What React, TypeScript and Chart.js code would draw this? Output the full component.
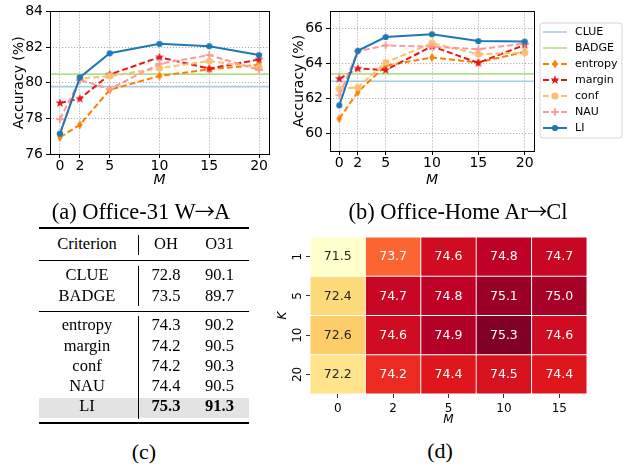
import React, { useEffect, useRef } from 'react';
import { Chart, registerables } from 'chart.js';

Chart.register(...registerables);

// ---------------- DATA ----------------
const M_VALUES = [0, 2, 5, 10, 15, 20];
const SERIES_LABELS = ['CLUE', 'BADGE', 'entropy', 'margin', 'conf', 'NAU', 'LI'];

// (a) Office-31 W→A
const A_CLUE = 79.78;
const A_BADGE = 80.48;
const A_ENTROPY = [76.94, 77.64, 79.6, 80.38, 80.75, 81.0];
const A_MARGIN = [78.86, 79.1, 80.46, 81.43, 80.79, 81.3];
const A_CONF = [77.15, 80.24, 80.37, 80.82, 81.21, 80.85];
const A_NAU = [77.95, 80.15, 79.65, 81.06, 81.55, 80.72];
const A_LI = [77.13, 80.3, 81.65, 82.18, 82.05, 81.55];
const A_Y_TICKS = [76, 78, 80, 82, 84];

// (b) Office-Home Ar→Cl
const B_CLUE = 63.0;
const B_BADGE = 63.42;
const B_ENTROPY = [60.85, 62.38, 63.89, 64.36, 64.07, 64.68];
const B_MARGIN = [63.14, 63.73, 63.64, 65.0, 64.05, 65.08];
const B_CONF = [62.57, 62.64, 64.07, 65.18, 64.55, 64.64];
const B_NAU = [62.19, 64.72, 65.05, 64.98, 64.83, 65.16];
const B_LI = [61.62, 64.74, 65.53, 65.69, 65.3, 65.27];
const B_Y_TICKS = [60, 62, 64, 66];

// (c) table
const TABLE_HEADER = ['Criterion', 'OH', 'O31'];
const TABLE_BASE_NAMES = ['CLUE', 'BADGE'];
const TABLE_BASE_OH = ['72.8', '73.5'];
const TABLE_BASE_O31 = ['90.1', '89.7'];
const TABLE_OURS_NAMES = ['entropy', 'margin', 'conf', 'NAU', 'LI'];
const TABLE_OURS_OH = ['74.3', '74.2', '74.2', '74.4', '75.3'];
const TABLE_OURS_O31 = ['90.2', '90.5', '90.3', '90.5', '91.3'];

// (d) heatmap
const HM_M = ['0', '2', '5', '10', '15'];
const HM_K = ['1', '5', '10', '20'];
const HM_VALUES = [
  [71.5, 73.7, 74.6, 74.8, 74.7],
  [72.4, 74.7, 74.8, 75.1, 75.0],
  [72.6, 74.6, 74.9, 75.3, 74.6],
  [72.2, 74.2, 74.4, 74.5, 74.4],
];

// ---------------- STYLE ----------------
const FONT = 'DejaVu Sans';
const SERIF = 'Liberation Serif';
const COLORS: Record<string, string> = {
  CLUE: '#a6cee3',
  BADGE: '#b2df8a',
  entropy: '#ff7f00',
  margin: '#e31a1c',
  conf: '#fdbf6f',
  NAU: '#fb9a99',
  LI: '#1f78b4',
};
const MARKERS: Record<string, string> = {
  entropy: 'thinDiamond',
  margin: 'star',
  conf: 'circleL',
  NAU: 'plus',
  LI: 'circle',
};

function makeMarker(kind: string, color: string): HTMLCanvasElement {
  const s = 14;
  const c = document.createElement('canvas');
  c.width = s;
  c.height = s;
  const ctx = c.getContext('2d')!;
  ctx.fillStyle = color;
  ctx.strokeStyle = color;
  const cx = s / 2;
  const cy = s / 2;
  ctx.beginPath();
  if (kind === 'circle') {
    ctx.arc(cx, cy, 3.1, 0, Math.PI * 2);
    ctx.fill();
  } else if (kind === 'circleL') {
    ctx.arc(cx, cy, 3.6, 0, Math.PI * 2);
    ctx.fill();
  } else if (kind === 'thinDiamond') {
    ctx.moveTo(cx, cy - 4.6);
    ctx.lineTo(cx + 2.7, cy);
    ctx.lineTo(cx, cy + 4.6);
    ctx.lineTo(cx - 2.7, cy);
    ctx.closePath();
    ctx.fill();
  } else if (kind === 'star') {
    const R = 4.8;
    const r = 2.0;
    for (let i = 0; i < 10; i++) {
      const a = -Math.PI / 2 + (i * Math.PI) / 5;
      const rr = i % 2 === 0 ? R : r;
      const px = cx + rr * Math.cos(a);
      const py = cy + rr * Math.sin(a);
      if (i === 0) ctx.moveTo(px, py);
      else ctx.lineTo(px, py);
    }
    ctx.closePath();
    ctx.fill();
  } else if (kind === 'plus') {
    ctx.lineWidth = 1.8;
    ctx.moveTo(cx - 3.8, cy);
    ctx.lineTo(cx + 3.8, cy);
    ctx.moveTo(cx, cy - 3.8);
    ctx.lineTo(cx, cy + 3.8);
    ctx.stroke();
  }
  return c;
}

// YlOrRd colormap
const YLORRD = ['#ffffcc', '#ffeda0', '#fed976', '#feb24c', '#fd8d3c', '#fc4e2a', '#e31a1c', '#bd0026', '#800026'];
function hexToRgb(h: string) {
  return [parseInt(h.slice(1, 3), 16), parseInt(h.slice(3, 5), 16), parseInt(h.slice(5, 7), 16)];
}
function ylorrd(t: number): string {
  const tt = Math.max(0, Math.min(1, t)) * (YLORRD.length - 1);
  const i = Math.min(Math.floor(tt), YLORRD.length - 2);
  const f = tt - i;
  const a = hexToRgb(YLORRD[i]);
  const b = hexToRgb(YLORRD[i + 1]);
  const c = a.map((v, k) => Math.round(v + (b[k] - v) * f));
  return `rgb(${c[0]},${c[1]},${c[2]})`;
}

// ---------------- PLUGINS ----------------
const framePlugin = {
  id: 'frame',
  afterDraw(chart: any) {
    const { ctx, chartArea } = chart;
    ctx.save();
    ctx.strokeStyle = '#000';
    ctx.lineWidth = 1;
    ctx.setLineDash([]);
    ctx.strokeRect(
      Math.round(chartArea.left) + 0.5,
      Math.round(chartArea.top) + 0.5,
      Math.round(chartArea.right - chartArea.left),
      Math.round(chartArea.bottom - chartArea.top)
    );
    ctx.restore();
  },
};

const legendPlugin = {
  id: 'mplLegend',
  afterDraw(chart: any) {
    const { ctx, chartArea } = chart;
    const x0 = chartArea.right + 6;
    const y0 = 23;
    const w = 82;
    const h = 115;
    ctx.save();
    ctx.beginPath();
    const r = 3;
    ctx.moveTo(x0 + r, y0);
    ctx.lineTo(x0 + w - r, y0);
    ctx.quadraticCurveTo(x0 + w, y0, x0 + w, y0 + r);
    ctx.lineTo(x0 + w, y0 + h - r);
    ctx.quadraticCurveTo(x0 + w, y0 + h, x0 + w - r, y0 + h);
    ctx.lineTo(x0 + r, y0 + h);
    ctx.quadraticCurveTo(x0, y0 + h, x0, y0 + h - r);
    ctx.lineTo(x0, y0 + r);
    ctx.quadraticCurveTo(x0, y0, x0 + r, y0);
    ctx.closePath();
    ctx.fillStyle = 'rgba(255,255,255,0.85)';
    ctx.fill();
    ctx.strokeStyle = '#d6d6d6';
    ctx.lineWidth = 1;
    ctx.setLineDash([]);
    ctx.stroke();
    chart.data.datasets.forEach((ds: any, i: number) => {
      const cy = y0 + 9 + i * 16;
      ctx.beginPath();
      ctx.strokeStyle = ds.borderColor;
      ctx.lineWidth = ds.borderWidth;
      ctx.setLineDash(ds.borderDash || []);
      ctx.moveTo(x0 + 3, cy);
      ctx.lineTo(x0 + 27, cy);
      ctx.stroke();
      ctx.setLineDash([]);
      if (ds.pointStyle && typeof ds.pointStyle === 'object') {
        const img = ds.pointStyle as HTMLCanvasElement;
        ctx.drawImage(img, x0 + 15 - img.width / 2, cy - img.height / 2);
      }
      ctx.fillStyle = '#000';
      ctx.font = `11px "${FONT}"`;
      ctx.textBaseline = 'middle';
      ctx.textAlign = 'left';
      ctx.fillText(ds.label, x0 + 35, cy + 0.5);
    });
    ctx.restore();
  },
};

const cellTextPlugin = {
  id: 'cellText',
  afterDatasetsDraw(chart: any) {
    const { ctx } = chart;
    ctx.save();
    ctx.font = `12.5px "${FONT}"`;
    ctx.textAlign = 'center';
    ctx.textBaseline = 'middle';
    chart.data.datasets.forEach((ds: any, di: number) => {
      const meta = chart.getDatasetMeta(di);
      const row = HM_K.length - 1 - di;
      meta.data.forEach((el: any, j: number) => {
        const v = HM_VALUES[row][j];
        ctx.fillStyle = v < 73 ? '#262626' : '#ffffff';
        ctx.fillText(v.toFixed(1), el.x, (el.y + el.base) / 2 + 0.5);
      });
    });
    ctx.restore();
  },
};

// ---------------- LINE CHARTS ----------------
function buildLineConfig(
  clue: number,
  badge: number,
  series: Record<string, number[]>,
  yMin: number,
  yMax: number,
  yTicks: number[],
  rightPad: number,
  topPad: number,
  bottomArea: number,
  withLegend: boolean
) {
  const datasets: any[] = [];
  const n = SERIES_LABELS.length;
  SERIES_LABELS.forEach((name, i) => {
    const order = n - 1 - i;
    if (name === 'CLUE' || name === 'BADGE') {
      const v = name === 'CLUE' ? clue : badge;
      datasets.push({
        label: name,
        data: [
          { x: -1, y: v },
          { x: 21, y: v },
        ],
        borderColor: COLORS[name],
        borderWidth: 1.6,
        pointRadius: 0,
        order,
      });
    } else {
      const vals = series[name];
      const marker = makeMarker(MARKERS[name], COLORS[name]);
      datasets.push({
        label: name,
        data: M_VALUES.map((m, k) => ({ x: m, y: vals[k] })),
        borderColor: COLORS[name],
        backgroundColor: COLORS[name],
        borderWidth: 2,
        borderDash: name === 'LI' ? [] : [6, 3],
        pointStyle: marker,
        pointRadius: 4,
        order,
      });
    }
  });

  const gridCommon = {
    color: '#b0b0b0',
    lineWidth: 1,
    drawTicks: true,
    tickLength: 4,
    tickColor: '#000',
    tickBorderDash: [],
  };
  const borderCommon = { display: false, dash: [1.2, 1.8] };

  return {
    type: 'line',
    data: { datasets },
    options: {
      animation: false,
      responsive: false,
      maintainAspectRatio: false,
      layout: { padding: { left: 0, top: topPad, right: rightPad, bottom: 0 } },
      plugins: { legend: { display: false }, tooltip: { enabled: false } },
      scales: {
        x: {
          type: 'linear',
          min: -1,
          max: 21,
          afterBuildTicks: (axis: any) => {
            axis.ticks = M_VALUES.map((v) => ({ value: v }));
          },
          afterFit: (scale: any) => {
            scale.height = bottomArea;
          },
          grid: gridCommon,
          border: borderCommon,
          ticks: { color: '#000', font: { family: FONT, size: 14 }, padding: 0, maxRotation: 0, autoSkip: false },
          title: {
            display: true,
            text: 'M',
            color: '#000',
            font: { family: FONT, size: 14, style: 'italic', lineHeight: 1.2 },
            padding: { top: 0, bottom: 11.5 },
          },
        },
        y: {
          type: 'linear',
          min: yMin,
          max: yMax,
          afterBuildTicks: (axis: any) => {
            axis.ticks = yTicks.map((v) => ({ value: v }));
          },
          afterFit: (scale: any) => {
            scale.width = 50;
          },
          grid: gridCommon,
          border: borderCommon,
          ticks: { color: '#000', font: { family: FONT, size: 14 }, padding: 3 },
          title: {
            display: true,
            text: 'Accuracy (%)',
            color: '#000',
            font: { family: FONT, size: 14, lineHeight: 1.2 },
            padding: { top: 10.5, bottom: 0 },
          },
        },
      },
    },
    plugins: withLegend ? [framePlugin, legendPlugin] : [framePlugin],
  };
}

function LineChart(props: { config: any; left: number; top: number; width: number; height: number }) {
  const ref = useRef<HTMLCanvasElement>(null);
  useEffect(() => {
    const chart = new Chart(ref.current as HTMLCanvasElement, props.config);
    return () => chart.destroy();
  }, []);
  return (
    <canvas
      ref={ref}
      width={props.width}
      height={props.height}
      style={{ position: 'absolute', left: props.left, top: props.top, width: props.width, height: props.height }}
    />
  );
}

function Heatmap() {
  const ref = useRef<HTMLCanvasElement>(null);
  useEffect(() => {
    const flat = HM_VALUES.flat();
    const vmin = Math.min(...flat);
    const vmax = Math.max(...flat);
    const datasets = HM_K.map((_, di) => {
      const row = HM_K.length - 1 - di;
      return {
        label: 'K=' + HM_K[row],
        data: HM_M.map(() => 1),
        backgroundColor: HM_VALUES[row].map((v) => ylorrd((v - vmin) / (vmax - vmin))),
        borderColor: '#ffffff',
        borderWidth: 0.8,
        borderSkipped: false,
        barPercentage: 1,
        categoryPercentage: 1,
      };
    });
    const tickGrid = {
      display: true,
      drawOnChartArea: false,
      drawTicks: true,
      tickLength: 4,
      color: '#333',
      offset: false,
    };
    const chart = new Chart(ref.current as HTMLCanvasElement, {
      type: 'bar',
      data: { labels: HM_M, datasets },
      options: {
        animation: false,
        responsive: false,
        maintainAspectRatio: false,
        layout: { padding: { left: 0, top: 12, right: 45, bottom: 0 } },
        plugins: { legend: { display: false }, tooltip: { enabled: false } },
        scales: {
          x: {
            stacked: true,
            afterFit: (scale: any) => {
              scale.height = 36;
            },
            grid: tickGrid,
            border: { display: false },
            ticks: { color: '#000', font: { family: FONT, size: 12 }, padding: 4, maxRotation: 0 },
            title: {
              display: true,
              text: 'M',
              color: '#000',
              font: { family: FONT, size: 12, style: 'italic', lineHeight: 1.2 },
              padding: { top: 0, bottom: 3 },
            },
          },
          y: {
            type: 'linear',
            stacked: true,
            min: 0,
            max: HM_K.length,
            afterBuildTicks: (axis: any) => {
              axis.ticks = HM_K.map((_, i) => ({ value: i + 0.5 }));
            },
            afterFit: (scale: any) => {
              scale.width = 40;
            },
            grid: tickGrid,
            border: { display: false },
            ticks: {
              color: '#000',
              font: { family: FONT, size: 12 },
              padding: 0,
              minRotation: 90,
              maxRotation: 90,
              crossAlign: 'center',
              callback: (_v: any, i: number) => HM_K[HM_K.length - 1 - i],
            },
            title: {
              display: true,
              text: 'K',
              color: '#000',
              font: { family: FONT, size: 12, style: 'italic', lineHeight: 1.2 },
              padding: { top: 5.8, bottom: 0 },
            },
          },
        },
      },
      plugins: [cellTextPlugin],
    } as any);
    return () => chart.destroy();
  }, []);
  return (
    <canvas
      ref={ref}
      width={362}
      height={205}
      style={{ position: 'absolute', left: 270, top: 225, width: 362, height: 205 }}
    />
  );
}

// ---------------- TEXT HELPERS ----------------
function Caption(props: { cx: number; baseline: number; size: number; children: any }) {
  const fs = props.size;
  return (
    <div
      style={{
        position: 'absolute',
        left: props.cx - 200,
        width: 400,
        top: props.baseline - 0.8375 * fs,
        textAlign: 'center',
        fontFamily: SERIF,
        fontSize: fs,
        lineHeight: `${fs}px`,
        whiteSpace: 'nowrap',
        color: '#000',
      }}
    >
      {props.children}
    </div>
  );
}

function Arrow() {
  return (
    <span
      style={{
        display: 'inline-block',
        fontFamily: '"Noto Sans CJK JP"',
        fontSize: '0.9em',
        margin: '0 -1px',
      }}
    >
      →
    </span>
  );
}

function Cell(props: { cx: number; cy: number; text: string; bold?: boolean }) {
  const fs = 16.5;
  return (
    <div
      style={{
        position: 'absolute',
        left: props.cx - 60,
        width: 120,
        top: props.cy - fs / 2 - 0.5,
        textAlign: 'center',
        fontFamily: SERIF,
        fontSize: fs,
        lineHeight: `${fs}px`,
        fontWeight: props.bold ? 'bold' : 'normal',
        whiteSpace: 'nowrap',
        color: '#000',
      }}
    >
      {props.text}
    </div>
  );
}

function Rule(props: { x: number; y: number; w: number; h: number; bg?: string }) {
  return (
    <div
      style={{
        position: 'absolute',
        left: props.x,
        top: props.y,
        width: props.w,
        height: props.h,
        background: props.bg || '#000',
      }}
    />
  );
}

function Table() {
  const colX = [87, 166, 219.5];
  const baseRowsY = [276, 296.7];
  const oursRowsY = [326, 346.5, 366.3, 386.3, 407];
  return (
    <>
      <Rule x={39} y={398} w={210} h={20} bg="#e3e3e3" />
      <Rule x={39} y={227} w={210} h={2} />
      <Rule x={39} y={259.5} w={210} h={1.2} />
      <Rule x={39} y={310.5} w={210} h={1.2} />
      <Rule x={39} y={421.5} w={210} h={2} />
      <Rule x={137.5} y={235} w={1} h={20} />
      <Rule x={137.5} y={266} w={1} h={40} />
      <Rule x={137.5} y={316} w={1} h={103} />
      {TABLE_HEADER.map((t, i) => (
        <Cell key={'h' + i} cx={colX[i]} cy={245} text={t} />
      ))}
      {TABLE_BASE_NAMES.map((name, r) => (
        <React.Fragment key={'b' + r}>
          <Cell cx={colX[0]} cy={baseRowsY[r]} text={name} />
          <Cell cx={colX[1]} cy={baseRowsY[r]} text={TABLE_BASE_OH[r]} />
          <Cell cx={colX[2]} cy={baseRowsY[r]} text={TABLE_BASE_O31[r]} />
        </React.Fragment>
      ))}
      {TABLE_OURS_NAMES.map((name, r) => {
        const best = name === 'LI';
        return (
          <React.Fragment key={'o' + r}>
            <Cell cx={colX[0]} cy={oursRowsY[r]} text={name} />
            <Cell cx={colX[1]} cy={oursRowsY[r]} text={TABLE_OURS_OH[r]} bold={best} />
            <Cell cx={colX[2]} cy={oursRowsY[r]} text={TABLE_OURS_O31[r]} bold={best} />
          </React.Fragment>
        );
      })}
    </>
  );
}

// ---------------- APP ----------------
export default function App() {
  const configA = buildLineConfig(
    A_CLUE,
    A_BADGE,
    { entropy: A_ENTROPY, margin: A_MARGIN, conf: A_CONF, NAU: A_NAU, LI: A_LI },
    76,
    84,
    A_Y_TICKS,
    11,
    9,
    46,
    false
  );
  const configB = buildLineConfig(
    B_CLUE,
    B_BADGE,
    { entropy: B_ENTROPY, margin: B_MARGIN, conf: B_CONF, NAU: B_NAU, LI: B_LI },
    59,
    67,
    B_Y_TICKS,
    98,
    10,
    49,
    true
  );
  return (
    <div
      style={{
        position: 'absolute',
        left: 0,
        top: 0,
        width: 632,
        height: 466,
        background: '#fff',
        overflow: 'hidden',
      }}
    >
      <LineChart config={configA} left={0} top={0} width={280} height={200} />
      <LineChart config={configB} left={280} top={0} width={352} height={200} />
      <Caption cx={141} baseline={218.7} size={22.5}>
        (a) Office-31 W<Arrow />A
      </Caption>
      <Caption cx={458} baseline={218.7} size={22.5}>
        (b) Office-Home Ar<Arrow />Cl
      </Caption>
      <Table />
      <Heatmap />
      <Caption cx={144} baseline={459} size={22}>
        (c)
      </Caption>
      <Caption cx={440} baseline={458} size={22}>
        (d)
      </Caption>
    </div>
  );
}
